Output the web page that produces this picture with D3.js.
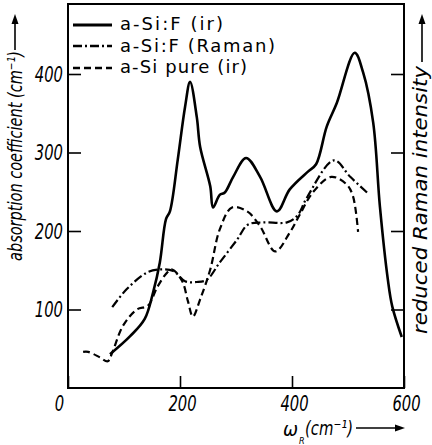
<!DOCTYPE html>
<html><head><meta charset="utf-8">
<script src="https://cdn.jsdelivr.net/npm/d3@7"></script>
<style>html,body{margin:0;padding:0;background:#fff;} svg{display:block;}</style>
</head><body>
<svg id="c" width="432" height="445"></svg>
<script>
// ---- data ----
const irFWavenumber = [75,111,137,152,164,175,182,196,209,218,230,236,254,259,271,280,295,318,343,373,396,429,443,462,480,512,527,545,557,571,579,596];
const irFAbsorption = [43,66,88,122,160,215,225,291,358,390,345,307,257,230,246,249,269,293,269,225,253,276,285,333,363,427,402,338,231,139,104,65];

const ramanWavenumber = [79,105,141,164,188,209,230,248,271,302,321,348,391,409,427,475,504,534];
const ramanIntensity  = [103,126,147,151,149,136,135,138,160,189,208,211,211,219,243,290,269,249];

const pureWavenumber = [27,36,57,71,80,98,123,143,159,177,186,204,214,223,236,254,271,293,320,343,370,396,414,437,470,498,509,518];
const pureAbsorption = [46,46,39,34,47,79,100,105,128,147,151,136,111,91,113,151,202,230,225,206,174,198,221,249,269,259,244,199];

const xTicks = [0,200,400,600];
const xTickLabels = ["0","200","400","600"];
const yTicks = [100,200,300,400];
const yTickLabels = ["100","200","300","400"];
const legendLabels = ["a-Si:F (ir)","a-Si:F (Raman)","a-Si pure (ir)"];

// ---- layout ----
const svg = d3.select("#c");
const L = 68, R = 404, T = 4, B = 388;
const x = d3.scaleLinear().domain([0,600]).range([L,R]);
const y = d3.scaleLinear().domain([0,400]).range([B,74]);
const tickFont = "'DejaVu Sans Condensed','Liberation Sans Narrow','DejaVu Sans',sans-serif";

// frame
svg.append("rect").attr("x",L).attr("y",T).attr("width",R-L).attr("height",B-T)
  .attr("fill","none").attr("stroke","#000").attr("stroke-width",2);

// axes
const gl = svg.append("g").attr("transform",`translate(${L},0)`)
  .call(d3.axisLeft(y).tickValues(yTicks).tickFormat((d,i)=>yTickLabels[i]).tickSize(-13).tickSizeOuter(0).tickPadding(5));
const gr = svg.append("g").attr("transform",`translate(${R},0)`)
  .call(d3.axisRight(y).tickValues(yTicks).tickFormat("").tickSize(-13).tickSizeOuter(0));
const gb = svg.append("g").attr("transform",`translate(0,${B})`)
  .call(d3.axisBottom(x).tickValues(xTicks).tickFormat((d,i)=>xTickLabels[i]).tickSize(-12).tickSizeOuter(0).tickPadding(7));
[gl,gr,gb].forEach(g=>{
  g.select(".domain").remove();
  g.selectAll("line").attr("stroke","#000").attr("stroke-width",1.6);
  g.selectAll("text").attr("font-family",tickFont).attr("font-style","italic")
    .attr("font-size",22).attr("fill","#000")
    .attr("textLength",function(){return this.textContent.length*9.4;})
    .attr("lengthAdjust","spacingAndGlyphs");
});
gb.selectAll(".tick text").attr("dx",(d)=>d===0?-9:2);

// curves
const line = (xs,ys)=>d3.line().x((d,i)=>x(xs[i])).y((d,i)=>y(ys[i])).curve(d3.curveCatmullRom.alpha(0.5))(xs);
const styles = [
  {dash:null, w:2.6},
  {dash:"9,3,2,3", w:2.2},
  {dash:"7,4", w:2.2}
];
svg.append("path").attr("d",line(irFWavenumber,irFAbsorption)).attr("fill","none")
  .attr("stroke","#000").attr("stroke-width",styles[0].w).attr("stroke-linejoin","round");
svg.append("path").attr("d",line(ramanWavenumber,ramanIntensity)).attr("fill","none")
  .attr("stroke","#000").attr("stroke-width",styles[1].w).attr("stroke-dasharray",styles[1].dash);
svg.append("path").attr("d",line(pureWavenumber,pureAbsorption)).attr("fill","none")
  .attr("stroke","#000").attr("stroke-width",styles[2].w).attr("stroke-dasharray",styles[2].dash);

// legend
const legRows = [{ly:25,ty:30,len:103},{ly:46,ty:52,len:155},{ly:68,ty:73,len:127}];
legendLabels.forEach((lab,i)=>{
  const r = legRows[i];
  svg.append("line").attr("x1",73).attr("x2",112).attr("y1",r.ly).attr("y2",r.ly)
    .attr("stroke","#000").attr("stroke-width",styles[i].w+0.3)
    .attr("stroke-dasharray",styles[i].dash);
  svg.append("text").attr("x",120).attr("y",r.ty).text(lab)
    .attr("font-family","'DejaVu Sans',sans-serif").attr("font-size",18)
    .attr("textLength",r.len).attr("lengthAdjust","spacing");
});

// left title
svg.append("g").attr("transform","translate(22,261) rotate(-90)")
  .append("text").attr("font-family",tickFont).attr("font-style","italic")
  .attr("font-size",20).attr("textLength",210).attr("lengthAdjust","spacingAndGlyphs")
  .text("absorption coefficient (cm⁻¹)");
svg.append("line").attr("x1",15).attr("x2",15).attr("y1",50).attr("y2",22).attr("stroke","#000").attr("stroke-width",1.6);
svg.append("path").attr("d","M15,14 L11.5,24 L18.5,24 Z").attr("fill","#000");

// right title
svg.append("g").attr("transform","translate(427,334) rotate(-90)")
  .append("text").attr("font-family",tickFont).attr("font-style","italic")
  .attr("font-size",19).attr("textLength",268).attr("lengthAdjust","spacingAndGlyphs")
  .text("reduced Raman intensity");
svg.append("line").attr("x1",422).attr("x2",422).attr("y1",62).attr("y2",22).attr("stroke","#000").attr("stroke-width",1.6);
svg.append("path").attr("d","M422,14 L418.5,24 L425.5,24 Z").attr("fill","#000");

// bottom title
svg.append("text").attr("x",283).attr("y",436).attr("font-family",tickFont)
  .attr("font-style","italic").attr("font-size",20).text("ω");
svg.append("text").attr("x",299).attr("y",444).attr("font-family",tickFont)
  .attr("font-style","italic").attr("font-size",9).text("R");
svg.append("text").attr("x",305).attr("y",435).attr("font-family",tickFont)
  .attr("font-style","italic").attr("font-size",20)
  .attr("textLength",48).attr("lengthAdjust","spacingAndGlyphs").text("(cm⁻¹)");
svg.append("line").attr("x1",356).attr("x2",396).attr("y1",428).attr("y2",428).attr("stroke","#000").attr("stroke-width",1.6);
svg.append("path").attr("d","M405,428 L395,424.5 L395,431.5 Z").attr("fill","#000");
</script>
</body></html>
